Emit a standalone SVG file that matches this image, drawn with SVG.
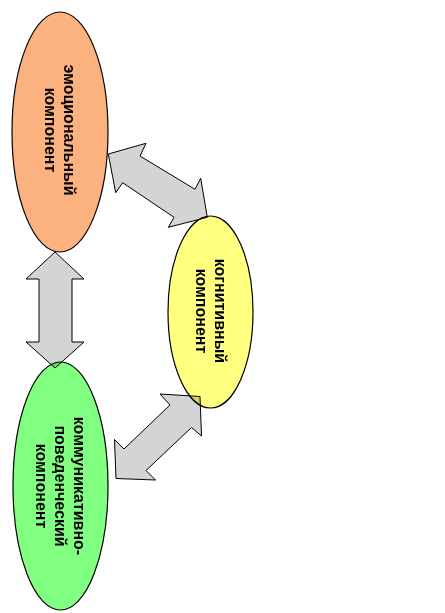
<svg xmlns="http://www.w3.org/2000/svg" width="445" height="613" viewBox="0 0 445 613">
<style>
.arrow{fill:#D4D4D4;stroke:#000;stroke-width:1;stroke-linejoin:miter}
.node ellipse{stroke:#000;stroke-width:1.2;mix-blend-mode:multiply}
.node text{font-family:"Liberation Sans",Arial,sans-serif;font-weight:bold;font-size:16px;fill:#000;text-anchor:middle}
</style>
<rect width="445" height="613" fill="#fff"/>
<g id="connectors">
<polygon class="arrow" points="55,252 84,279 72,279 72,342 84,342 55,368 26,342 39,342 39,279 26,279"/>
<polygon class="arrow" points="108.3,154 146,143.3 140,156 195,189.3 200.7,178.3 207.3,217.3 168.3,227.3 174,217.3 122.7,182.7 115.7,192.7"/>
<polygon class="arrow" points="200,396.5 160,394 170,405 124,449 114.5,439.5 116,478.5 155.5,480 146,470.5 191.5,427.5 201.5,436"/>
</g>
<g id="node-emotional" class="node">
<ellipse cx="60" cy="132" rx="48" ry="120" fill="#FBB27F"/>
<g transform="translate(60,130) rotate(90)">
<text x="0" y="-3.5">эмоциональный</text>
<text x="0" y="15">компонент</text>
</g>
</g>
<g id="node-cognitive" class="node">
<ellipse cx="210.5" cy="312" rx="42.5" ry="96" fill="#FFFF80"/>
<g transform="translate(210.5,311) rotate(90)">
<text x="0" y="-4">когнитивный</text>
<text x="0" y="15">компонент</text>
</g>
</g>
<g id="node-communicative" class="node">
<ellipse cx="60.5" cy="486" rx="47.5" ry="124" fill="#80FF80"/>
<g transform="translate(60.5,486) rotate(90)">
<text x="0" y="-13">коммуникативно-</text>
<text x="0" y="5.5">поведенческий</text>
<text x="0" y="24.5">компонент</text>
</g>
</g>
</svg>
